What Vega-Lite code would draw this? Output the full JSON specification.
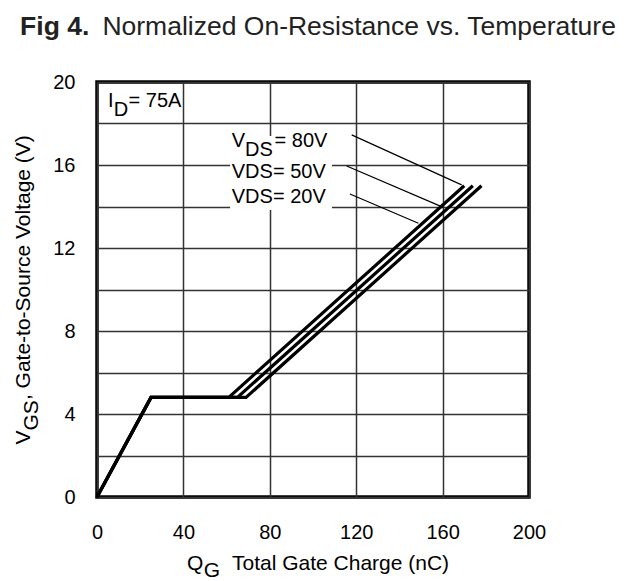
{
  "$schema": "https://vega.github.io/schema/vega-lite/v6.json",
  "width": 432,
  "height": 415,
  "autosize": {"type": "none"},
  "padding": {"left": 97, "top": 82, "right": 111, "bottom": 84},
  "background": "white",
  "config": {
    "view": {"stroke": "black", "strokeWidth": 3.5, "fill": "white"},
    "font": "Liberation Sans",
    "axis": {"labelFont": "Liberation Sans", "labelColor": "black", "labelFontSize": 20, "domain": false, "ticks": false, "gridColor": "#333333", "gridWidth": 1.5, "gridOpacity": 1, "labelFlush": false, "labelOverlap": false, "title": null}
  },
  "datasets": {
    "lines": [
      {"series": "80V", "i": 0, "x": 0, "y": 0},
      {"series": "80V", "i": 1, "x": 25, "y": 4.8},
      {"series": "80V", "i": 2, "x": 61, "y": 4.8},
      {"series": "80V", "i": 3, "x": 170, "y": 15},
      {"series": "50V", "i": 0, "x": 0, "y": 0},
      {"series": "50V", "i": 1, "x": 25, "y": 4.8},
      {"series": "50V", "i": 2, "x": 65, "y": 4.8},
      {"series": "50V", "i": 3, "x": 174, "y": 15},
      {"series": "20V", "i": 0, "x": 0, "y": 0},
      {"series": "20V", "i": 1, "x": 25, "y": 4.8},
      {"series": "20V", "i": 2, "x": 69, "y": 4.8},
      {"series": "20V", "i": 3, "x": 178, "y": 15}
    ],
    "leaders": [
      {"x": 117.9, "y": 17.45, "x2": 168.8, "y2": 15.04},
      {"x": 115.6, "y": 15.95, "x2": 160.3, "y2": 13.96},
      {"x": 117.1, "y": 14.6, "x2": 148.8, "y2": 13.19}
    ],
    "box": [{"x": 61.6, "x2": 108.8, "y": 13.83, "y2": 17.4}],
    "ann": [
      {"t": "I", "x": 5.1, "y": 18.8},
      {"t": "= 75A", "x": 14.6, "y": 18.8},
      {"t": "V", "x": 62.4, "y": 16.88},
      {"t": "= 80V", "x": 82.2, "y": 16.88},
      {"t": "VDS= 50V", "x": 62.4, "y": 15.36},
      {"t": "VDS= 20V", "x": 62.4, "y": 14.15}
    ],
    "annSub": [
      {"t": "D", "x": 7.8, "y": 18.8},
      {"t": "DS", "x": 68.5, "y": 16.88}
    ],
    "xt": [
      {"t": "Q", "x": 41.7, "y": -3.5},
      {"t": "Total Gate Charge (nC)", "x": 62.5, "y": -3.5}
    ],
    "xtSub": [{"t": "G", "x": 49.4, "y": -3.5}],
    "yt": [
      {"t": "V", "x": -31, "y": 2.53},
      {"t": ", Gate-to-Source Voltage (V)", "x": -31, "y": 4.67}
    ],
    "ytSub": [{"t": "GS", "x": -31, "y": 3.2}],
    "titleBold": [{"t": "Fig 4.", "x": -35.6, "y": 22.27}],
    "titleNorm": [{"t": "Normalized On-Resistance vs. Temperature", "x": 2.5, "y": 22.27}]
  },
  "encoding": {
    "x": {"field": "x", "type": "quantitative", "scale": {"domain": [0, 200], "nice": false, "zero": false},
      "axis": {"values": [0, 40, 80, 120, 160, 200], "labelPadding": 25}},
    "y": {"field": "y", "type": "quantitative", "scale": {"domain": [0, 20], "nice": false, "zero": false},
      "axis": {"values": [0, 2, 4, 6, 8, 10, 12, 14, 16, 18, 20], "labelExpr": "datum.value % 4 === 0 ? datum.label : ''", "labelPadding": 22}}
  },
  "layer": [
    {
      "data": {"name": "box"},
      "mark": {"type": "rect", "fill": "white", "stroke": null},
      "encoding": {"x2": {"field": "x2"}, "y2": {"field": "y2"}}
    },
    {
      "data": {"name": "lines"},
      "mark": {"type": "line", "color": "black", "strokeWidth": 3.2, "strokeJoin": "miter"},
      "encoding": {"detail": {"field": "series"}, "order": {"field": "i"}}
    },
    {
      "data": {"name": "leaders"},
      "mark": {"type": "rule", "color": "black", "strokeWidth": 1.2},
      "encoding": {"x2": {"field": "x2"}, "y2": {"field": "y2"}}
    },
    {
      "data": {"name": "ann"},
      "mark": {"type": "text", "align": "left", "baseline": "alphabetic", "fontSize": 20, "color": "black"},
      "encoding": {"text": {"field": "t"}}
    },
    {
      "data": {"name": "annSub"},
      "mark": {"type": "text", "align": "left", "baseline": "alphabetic", "fontSize": 20, "dy": 9, "color": "black"},
      "encoding": {"text": {"field": "t"}}
    },
    {
      "data": {"name": "xt"},
      "mark": {"type": "text", "align": "left", "baseline": "alphabetic", "fontSize": 21, "color": "black"},
      "encoding": {"text": {"field": "t"}}
    },
    {
      "data": {"name": "xtSub"},
      "mark": {"type": "text", "align": "left", "baseline": "alphabetic", "fontSize": 21, "dy": 7, "color": "black"},
      "encoding": {"text": {"field": "t"}}
    },
    {
      "data": {"name": "yt"},
      "mark": {"type": "text", "align": "left", "baseline": "alphabetic", "fontSize": 21, "angle": 270, "color": "black"},
      "encoding": {"text": {"field": "t"}}
    },
    {
      "data": {"name": "ytSub"},
      "mark": {"type": "text", "align": "left", "baseline": "alphabetic", "fontSize": 21, "angle": 270, "dy": 8, "color": "black"},
      "encoding": {"text": {"field": "t"}}
    },
    {
      "data": {"name": "titleBold"},
      "mark": {"type": "text", "align": "left", "baseline": "alphabetic", "fontSize": 26.5, "fontWeight": "bold", "color": "#222222"},
      "encoding": {"text": {"field": "t"}}
    },
    {
      "data": {"name": "titleNorm"},
      "mark": {"type": "text", "align": "left", "baseline": "alphabetic", "fontSize": 26.5, "color": "#222222"},
      "encoding": {"text": {"field": "t"}}
    }
  ]
}
